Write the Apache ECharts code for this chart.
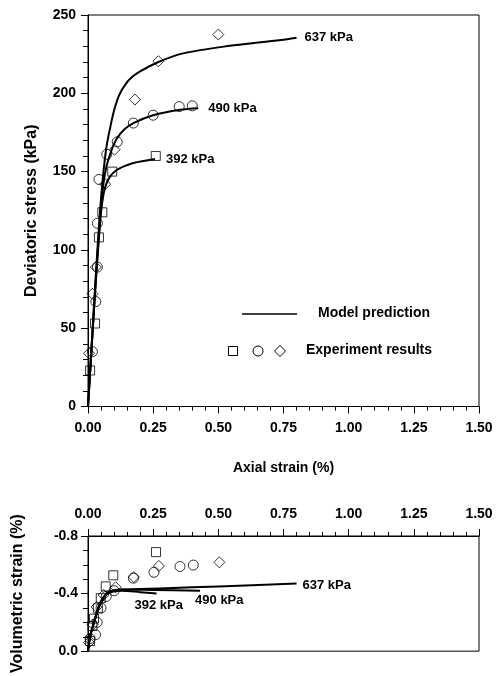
<!DOCTYPE html>
<html>
<head>
<meta charset="utf-8">
<script src="https://cdn.jsdelivr.net/npm/echarts@6/dist/echarts.min.js"></script>
<style>
html,body{margin:0;padding:0;background:#fff;}
#c{width:503px;height:676px;}
</style>
</head>
<body>
<div id="c"></div>
<script>
// ---- Data ----
const xTickLabels = ['0.00','0.25','0.50','0.75','1.00','1.25','1.50'];
const stressTicks = [0, 50, 100, 150, 200, 250];
const volTicks = ['-0.8', '-0.4', '0.0'];
const pressures = ['392 kPa', '490 kPa', '637 kPa'];

// Top panel: model prediction (axial strain %, deviatoric stress kPa)
const model392 = [[0,0],[0.01,27],[0.02,54],[0.03,80],[0.04,103],[0.05,124],[0.06,136],[0.07,142],[0.085,147],[0.11,151],[0.14,153.5],[0.174,155.5],[0.257,158]];
const model490 = [[0,0],[0.01,27],[0.02,54],[0.03,81],[0.04,106],[0.049,127],[0.059,142],[0.072,154],[0.091,164],[0.11,171],[0.14,177],[0.174,181],[0.25,186],[0.353,189.5],[0.423,190.5]];
const model637 = [[0,0],[0.01,28],[0.02,56],[0.03,84],[0.04,110],[0.05,133],[0.06,151],[0.072,167],[0.085,178],[0.1,189],[0.12,199],[0.145,206],[0.17,210.5],[0.2,214],[0.27,220],[0.365,225.5],[0.53,230],[0.74,234],[0.80,235.5]];

// Top panel: experiment results
const exp392 = [[0.008,23],[0.027,53],[0.042,108],[0.055,124],[0.093,150],[0.26,160]];
const exp490 = [[0.017,35],[0.03,67],[0.036,89],[0.036,117],[0.042,145],[0.072,161],[0.112,169],[0.174,181],[0.25,186],[0.35,191.5],[0.40,192]];
const exp637 = [[0.004,34],[0.017,72],[0.03,89],[0.066,142],[0.102,164],[0.18,196],[0.27,220.5],[0.50,237.5]];

// Bottom panel: model prediction (axial strain %, volumetric strain %)
const vol392 = [[0,0],[0.008,-0.1],[0.027,-0.22],[0.046,-0.32],[0.072,-0.395],[0.097,-0.415],[0.13,-0.42],[0.2,-0.41],[0.263,-0.40]];
const vol490 = [[0,0],[0.008,-0.1],[0.027,-0.225],[0.046,-0.33],[0.072,-0.4],[0.097,-0.42],[0.135,-0.428],[0.25,-0.425],[0.43,-0.42]];
const vol637 = [[0,0],[0.008,-0.1],[0.027,-0.228],[0.046,-0.335],[0.072,-0.402],[0.097,-0.422],[0.135,-0.428],[0.3,-0.437],[0.5,-0.45],[0.8,-0.47]];

// Bottom panel: experiment results
const vexp392 = [[0.008,-0.07],[0.017,-0.175],[0.023,-0.226],[0.038,-0.297],[0.049,-0.368],[0.068,-0.45],[0.097,-0.527],[0.261,-0.688]];
const vexp490 = [[0.008,-0.087],[0.029,-0.114],[0.035,-0.2],[0.05,-0.3],[0.07,-0.38],[0.1,-0.42],[0.174,-0.507],[0.253,-0.548],[0.353,-0.588],[0.404,-0.598]];
const vexp637 = [[0.004,-0.06],[0.018,-0.185],[0.033,-0.307],[0.06,-0.39],[0.106,-0.444],[0.176,-0.515],[0.272,-0.592],[0.504,-0.617]];

// ---- Chart ----
const FONT = '"Liberation Sans", Arial, sans-serif';
const BLACK = '#000';
const chart = echarts.init(document.getElementById('c'), null, {renderer: 'canvas'});

function xAxisCfg(grid, pos, withName) {
  return {
    type: 'value', gridIndex: grid, position: pos, min: 0, max: 1.5, interval: 0.25,
    axisLine: {onZero: false, lineStyle: {color: BLACK, width: 1}},
    axisTick: {show: true, length: 7, lineStyle: {color: BLACK}},
    minorTick: {show: true, splitNumber: 5, length: 4, lineStyle: {color: BLACK}},
    splitLine: {show: false},
    axisLabel: {color: BLACK, fontFamily: FONT, fontWeight: 'bold', fontSize: 14, margin: 15,
      formatter: v => xTickLabels[Math.round(v / 0.25)]},
    name: withName ? 'Axial strain (%)' : '', nameLocation: 'middle', nameGap: 55,
    nameTextStyle: {color: BLACK, fontFamily: FONT, fontWeight: 'bold', fontSize: 14}
  };
}

const lineStyleModel = {color: BLACK, width: 2};
function modelSeries(data, xi, yi, label, lblOpt) {
  return {
    type: 'line', xAxisIndex: xi, yAxisIndex: yi, data: data, showSymbol: false, symbol: 'none',
    smooth: 0.3, lineStyle: lineStyleModel, color: BLACK, silent: true, z: 3,
    endLabel: Object.assign({show: true, formatter: label, color: BLACK, fontFamily: FONT,
      fontWeight: 'bold', fontSize: 13}, lblOpt)
  };
}
function expSeries(data, xi, yi, sym, size) {
  return {
    type: 'scatter', xAxisIndex: xi, yAxisIndex: yi, data: data, symbol: sym, symbolSize: size,
    itemStyle: {color: 'transparent', borderColor: BLACK, borderWidth: 1}, z: 4, silent: true
  };
}

const option = {
  backgroundColor: '#fff',
  animation: false,
  grid: [
    {left: 88, right: 24, top: 15, height: 391.5, show: true, borderColor: BLACK, borderWidth: 1, backgroundColor: 'transparent'},
    {left: 88, right: 24, top: 536, height: 131, show: true, borderColor: BLACK, borderWidth: 1, backgroundColor: 'transparent'}
  ],
  xAxis: [xAxisCfg(0, 'bottom', true), xAxisCfg(1, 'top', false)],
  yAxis: [
    {
      type: 'value', gridIndex: 0, min: stressTicks[0], max: stressTicks[stressTicks.length - 1], interval: 50,
      axisLine: {show: true, lineStyle: {color: BLACK}},
      axisTick: {show: true, length: 7, lineStyle: {color: BLACK}},
      minorTick: {show: true, splitNumber: 5, length: 5, lineStyle: {color: BLACK}},
      splitLine: {show: false},
      axisLabel: {color: BLACK, fontFamily: FONT, fontWeight: 'bold', fontSize: 14, margin: 12},
      name: 'Deviatoric stress (kPa)', nameLocation: 'middle', nameGap: 48,
      nameTextStyle: {color: BLACK, fontFamily: FONT, fontWeight: 'bold', fontSize: 16}
    },
    {
      type: 'value', gridIndex: 1, min: -0.8, max: 0, interval: 0.4, inverse: true,
      axisLine: {show: true, lineStyle: {color: BLACK}},
      axisTick: {show: true, length: 7, lineStyle: {color: BLACK}},
      minorTick: {show: true, splitNumber: 4, length: 5, lineStyle: {color: BLACK}},
      splitLine: {show: false},
      axisLabel: {color: BLACK, fontFamily: FONT, fontWeight: 'bold', fontSize: 14, margin: 10,
        formatter: v => volTicks[Math.round((v + 0.8) / 0.4)]},
      name: 'Volumetric strain (%)', nameLocation: 'middle', nameGap: 62,
      nameTextStyle: {color: BLACK, fontFamily: FONT, fontWeight: 'bold', fontSize: 16}
    }
  ],
  series: [
    modelSeries(model392, 0, 0, pressures[0], {distance: 11}),
    modelSeries(model490, 0, 0, pressures[1], {distance: 10}),
    modelSeries(model637, 0, 0, pressures[2], {distance: 8}),
    expSeries(exp392, 0, 0, 'rect', 9),
    expSeries(exp490, 0, 0, 'circle', 10),
    expSeries(exp637, 0, 0, 'diamond', 11),
    modelSeries(vol392, 1, 1, pressures[0], {distance: 0, offset: [-22, 12]}),
    modelSeries(vol490, 1, 1, pressures[1], {distance: 0, offset: [-5, 10]}),
    modelSeries(vol637, 1, 1, pressures[2], {distance: 6, offset: [0, 2]}),
    expSeries(vexp392, 1, 1, 'rect', 9),
    expSeries(vexp490, 1, 1, 'circle', 10),
    expSeries(vexp637, 1, 1, 'diamond', 11)
  ],
  graphic: [
    {type: 'line', shape: {x1: 242, y1: 314, x2: 297, y2: 314}, style: {stroke: BLACK, lineWidth: 1.5}},
    {type: 'text', left: 318, top: 306, style: {text: 'Model prediction', fill: BLACK, font: 'bold 14px ' + FONT}},
    {type: 'rect', shape: {x: 228.5, y: 346.5, width: 9, height: 9}, style: {fill: 'none', stroke: BLACK, lineWidth: 1}},
    {type: 'circle', shape: {cx: 258, cy: 351, r: 5}, style: {fill: 'none', stroke: BLACK, lineWidth: 1}},
    {type: 'polygon', shape: {points: [[280, 345.5], [285.5, 351], [280, 356.5], [274.5, 351]]}, style: {fill: 'none', stroke: BLACK, lineWidth: 1}},
    {type: 'text', left: 306, top: 343, style: {text: 'Experiment results', fill: BLACK, font: 'bold 14px ' + FONT}}
  ]
};
chart.setOption(option);
</script>
</body>
</html>
